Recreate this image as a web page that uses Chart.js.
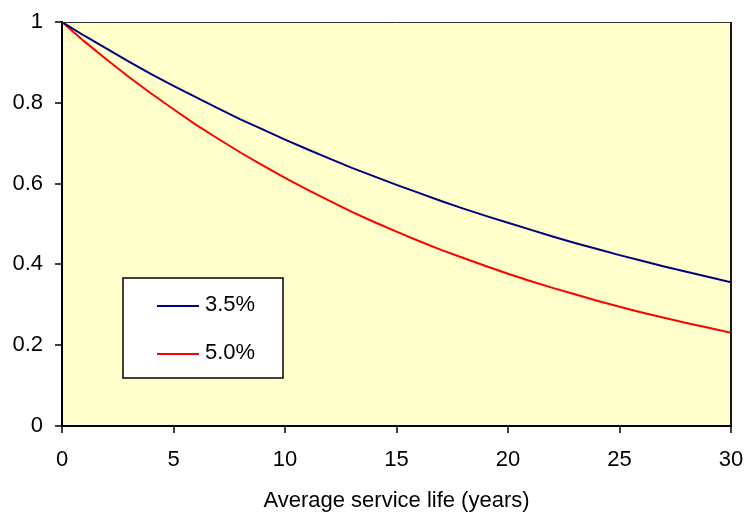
<!DOCTYPE html>
<html>
<head>
<meta charset="utf-8">
<script src="https://cdn.jsdelivr.net/npm/chart.js@4/dist/chart.umd.min.js"></script>
<style>
  html, body { margin: 0; padding: 0; background: #ffffff; }
  #wrap { width: 747px; height: 512px; }
</style>
</head>
<body>
<div id="wrap"><canvas id="myChart" width="747" height="512"></canvas></div>
<script>
// service life in years
var years = [0, 1, 2, 3, 4, 5, 6, 7, 8, 9, 10, 11, 12, 13, 14, 15, 16, 17, 18, 19, 20,
             21, 22, 23, 24, 25, 26, 27, 28, 29, 30];

// factor at 3.5%
var rate35 = [1, 0.966, 0.934, 0.902, 0.871, 0.842, 0.814, 0.786, 0.759, 0.734, 0.709,
              0.685, 0.662, 0.639, 0.618, 0.597, 0.577, 0.557, 0.538, 0.520, 0.503,
              0.486, 0.469, 0.453, 0.438, 0.423, 0.409, 0.395, 0.382, 0.369, 0.356];

// factor at 5.0%
var rate50 = [1, 0.952, 0.907, 0.864, 0.823, 0.784, 0.746, 0.711, 0.677, 0.645, 0.614,
              0.585, 0.557, 0.530, 0.505, 0.481, 0.458, 0.436, 0.416, 0.396, 0.377,
              0.359, 0.342, 0.326, 0.310, 0.295, 0.281, 0.268, 0.255, 0.243, 0.231];

var seriesLabels = ["3.5%", "5.0%"];
var xTicks = [0, 5, 10, 15, 20, 25, 30];
var yTicks = [0, 0.2, 0.4, 0.6, 0.8, 1];

function toPoints(xs, ys) {
  return xs.map(function (x, i) { return { x: x, y: ys[i] }; });
}

var FONT = "'Liberation Sans', Arial, sans-serif";
var TICK_LEN = 7;

// pale yellow plot area, top/right frame and outside tick marks
var plotFrame = {
  id: 'plotFrame',
  beforeDraw: function (chart) {
    var a = chart.chartArea, c = chart.ctx;
    c.save();
    c.fillStyle = '#FFFFCC';
    c.fillRect(a.left, a.top, a.right - a.left, a.bottom - a.top);
    c.restore();
  },
  afterDatasetsDraw: function (chart) {
    var a = chart.chartArea, c = chart.ctx;
    var xs = chart.scales.x, ys = chart.scales.y;
    c.save();
    c.strokeStyle = '#333333';
    c.lineWidth = 1;
    c.beginPath();
    c.moveTo(a.left, a.top + 0.5);
    c.lineTo(a.right, a.top + 0.5);
    c.stroke();
    c.strokeStyle = '#1a1a1a';
    c.lineWidth = 2;
    c.beginPath();
    c.moveTo(a.right, a.top);
    c.lineTo(a.right, a.bottom);
    c.stroke();

    c.strokeStyle = '#000000';
    c.lineWidth = 1.5;
    c.beginPath();
    yTicks.forEach(function (v) {
      var py = Math.round(ys.getPixelForValue(v));
      c.moveTo(a.left - TICK_LEN, py);
      c.lineTo(a.left, py);
    });
    xTicks.forEach(function (v) {
      var px = Math.round(xs.getPixelForValue(v));
      c.moveTo(px, a.bottom);
      c.lineTo(px, a.bottom + TICK_LEN);
    });
    c.stroke();
    c.restore();
  }
};

// boxed legend sitting inside the plot
var innerLegend = {
  id: 'innerLegend',
  afterDraw: function (chart) {
    var c = chart.ctx;
    var bx = 123, by = 278, bw = 160, bh = 100;
    c.save();
    c.fillStyle = '#ffffff';
    c.fillRect(bx, by, bw, bh);
    c.strokeStyle = '#000000';
    c.lineWidth = 1.5;
    c.strokeRect(bx, by, bw, bh);
    c.font = '22px ' + FONT;
    c.textBaseline = 'middle';
    chart.data.datasets.forEach(function (ds, i) {
      var y = by + 28 + i * 48;
      c.strokeStyle = ds.borderColor;
      c.lineWidth = 2;
      c.beginPath();
      c.moveTo(bx + 34, y);
      c.lineTo(bx + 76, y);
      c.stroke();
      c.fillStyle = '#000000';
      c.fillText(ds.label, bx + 82, y - 1);
    });
    c.restore();
  }
};

var ctx = document.getElementById("myChart").getContext('2d');

var myChart = new Chart(ctx, {
  type: 'line',
  data: {
    datasets: [{
      label: seriesLabels[0],
      data: toPoints(years, rate35),
      borderColor: '#000080',
      borderWidth: 2,
      pointRadius: 0,
      tension: 0,
      fill: false
    }, {
      label: seriesLabels[1],
      data: toPoints(years, rate50),
      borderColor: '#FF0000',
      borderWidth: 2,
      pointRadius: 0,
      tension: 0,
      fill: false
    }]
  },
  options: {
    responsive: false,
    animation: false,
    layout: { padding: { top: 22, right: 16, left: 0, bottom: 0 } },
    plugins: {
      legend: { display: false },
      tooltip: { enabled: false }
    },
    scales: {
      x: {
        type: 'linear',
        min: 0,
        max: 30,
        afterBuildTicks: function (scale) {
          scale.ticks = xTicks.map(function (v) { return { value: v }; });
        },
        afterFit: function (scale) {
          scale.height = 86;
          scale.paddingLeft = 0;
          scale.paddingRight = 0;
        },
        // tickLength still reserves room for the marks drawn by plotFrame
        grid: { display: false, tickLength: TICK_LEN },
        border: { display: true, color: '#000000', width: 2 },
        ticks: { color: '#000000', font: { family: FONT, size: 22 }, padding: 14, maxRotation: 0 },
        title: {
          display: true,
          text: 'Average service life (years)',
          color: '#000000',
          font: { family: FONT, size: 22, lineHeight: 1 },
          padding: { top: 4, bottom: 0 }
        }
      },
      y: {
        type: 'linear',
        min: 0,
        max: 1,
        afterBuildTicks: function (scale) {
          scale.ticks = yTicks.map(function (v) { return { value: v }; });
        },
        afterFit: function (scale) {
          scale.width = 62;
          scale.paddingTop = 0;
          scale.paddingBottom = 0;
        },
        grid: { display: false, tickLength: TICK_LEN },
        border: { display: true, color: '#000000', width: 2 },
        ticks: {
          color: '#000000',
          font: { family: FONT, size: 22 },
          padding: 12,
          callback: function (v) { return String(Math.round(v * 10) / 10); }
        }
      }
    }
  },
  plugins: [plotFrame, innerLegend]
});
</script>
</body>
</html>
